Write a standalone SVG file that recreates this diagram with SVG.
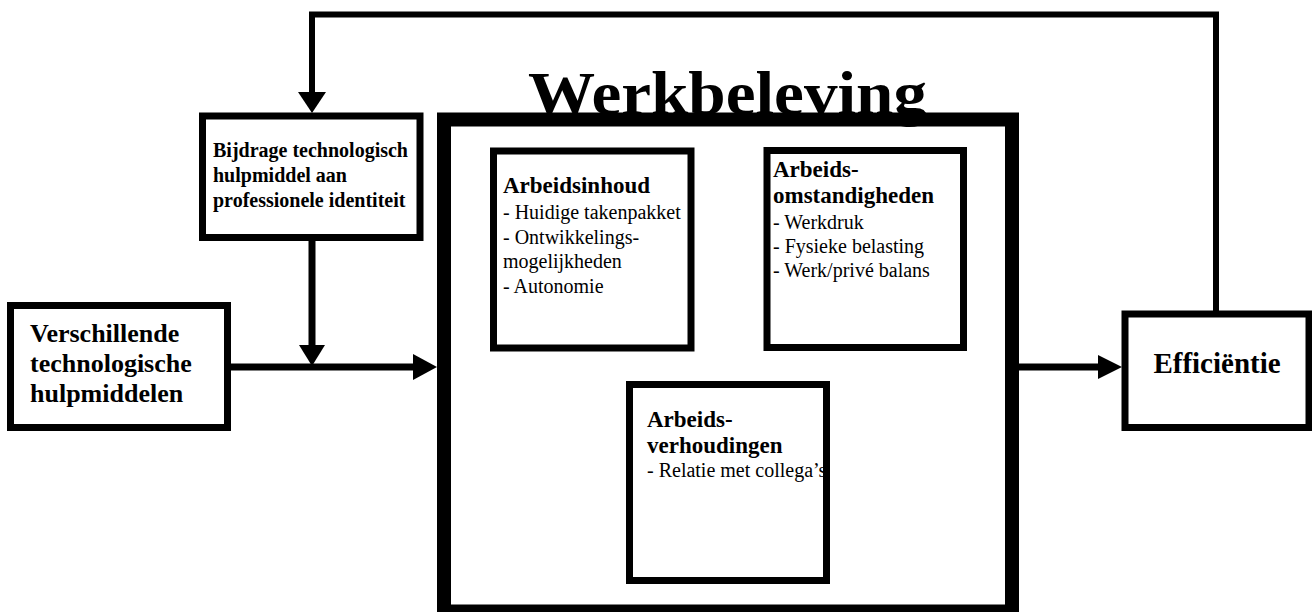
<svg xmlns="http://www.w3.org/2000/svg" width="1312" height="612" viewBox="0 0 1312 612">
<style>
  text { font-family: "Liberation Serif", "Times New Roman", serif; fill: #000; }
  .b { font-weight: bold; }
  .box { fill: #fff; stroke: #000; stroke-width: 7; }
  .big { fill: #fff; stroke: #000; stroke-width: 14; }
  .ln { fill: none; stroke: #000; stroke-width: 7; }
  .fb { fill: none; stroke: #000; stroke-width: 6; stroke-linejoin: miter; }
  .ah { fill: #000; stroke: none; }
  .t20 { font-size: 20px; }
  .h23 { font-size: 23px; font-weight: bold; }
</style>
<defs>
  <clipPath id="clipVerh"><rect x="633" y="388" width="190" height="189"/></clipPath>
</defs>
<rect width="1312" height="612" fill="#fff"/>

<g id="werkbeleving">
  <rect class="big" x="444" y="119.5" width="568" height="492"/>
  <text class="b" x="528" y="114" font-size="62" textLength="399" lengthAdjust="spacingAndGlyphs">Werkbeleving</text>
</g>

<g id="connectors">
  <line class="ln" x1="231" y1="367" x2="415" y2="367"/>
  <polygon class="ah" points="413,354 437,367 413,380"/>
  <line class="ln" x1="312" y1="241" x2="312" y2="347"/>
  <polygon class="ah" points="299,345 325,345 312,366"/>
  <line class="ln" x1="1019" y1="367" x2="1100" y2="367"/>
  <polygon class="ah" points="1098,355 1122,367 1098,379"/>
  <polyline class="fb" points="1216,311 1216,14.5 312,14.5 312,94"/>
  <polygon class="ah" points="298,92 326,92 312,113"/>
</g>

<g id="bijdrage">
  <rect class="box" x="202.5" y="116" width="217.5" height="121.5"/>
  <text class="b" font-size="20" x="213" y="157">Bijdrage technologisch</text>
  <text class="b" font-size="20" x="213" y="182">hulpmiddel aan</text>
  <text class="b" font-size="20" x="213" y="207">professionele identiteit</text>
</g>

<g id="verschillende">
  <rect class="box" x="10.5" y="305.5" width="217" height="122"/>
  <text class="b" font-size="26" x="30" y="342">Verschillende</text>
  <text class="b" font-size="26" x="30" y="372">technologische</text>
  <text class="b" font-size="26" x="30" y="402">hulpmiddelen</text>
</g>

<g id="efficientie">
  <rect class="box" x="1125" y="314" width="184" height="113.5"/>
  <text class="b" font-size="29" x="1217" y="373" text-anchor="middle">Efficiëntie</text>
</g>

<g id="arbeidsinhoud">
  <rect class="box" x="493.5" y="151" width="197.5" height="197"/>
  <text class="h23" x="503" y="193">Arbeidsinhoud</text>
  <text class="t20" x="503" y="219">- Huidige takenpakket</text>
  <text class="t20" x="503" y="243.5">- Ontwikkelings-</text>
  <text class="t20" x="503" y="268">mogelijkheden</text>
  <text class="t20" x="503" y="293">- Autonomie</text>
</g>

<g id="arbeidsomstandigheden">
  <rect class="box" x="767" y="150.5" width="196.5" height="197"/>
  <text class="h23" x="773" y="177">Arbeids-</text>
  <text class="h23" x="773" y="203">omstandigheden</text>
  <text class="t20" x="773" y="229">- Werkdruk</text>
  <text class="t20" x="773" y="253">- Fysieke belasting</text>
  <text class="t20" x="773" y="277">- Werk/privé balans</text>
</g>

<g id="arbeidsverhoudingen">
  <rect class="box" x="629.5" y="384.5" width="197" height="196"/>
  <text class="h23" x="647" y="427">Arbeids-</text>
  <text class="h23" x="647" y="453">verhoudingen</text>
  <text class="t20" x="647" y="477" clip-path="url(#clipVerh)">- Relatie met collega’s</text>
</g>
</svg>
